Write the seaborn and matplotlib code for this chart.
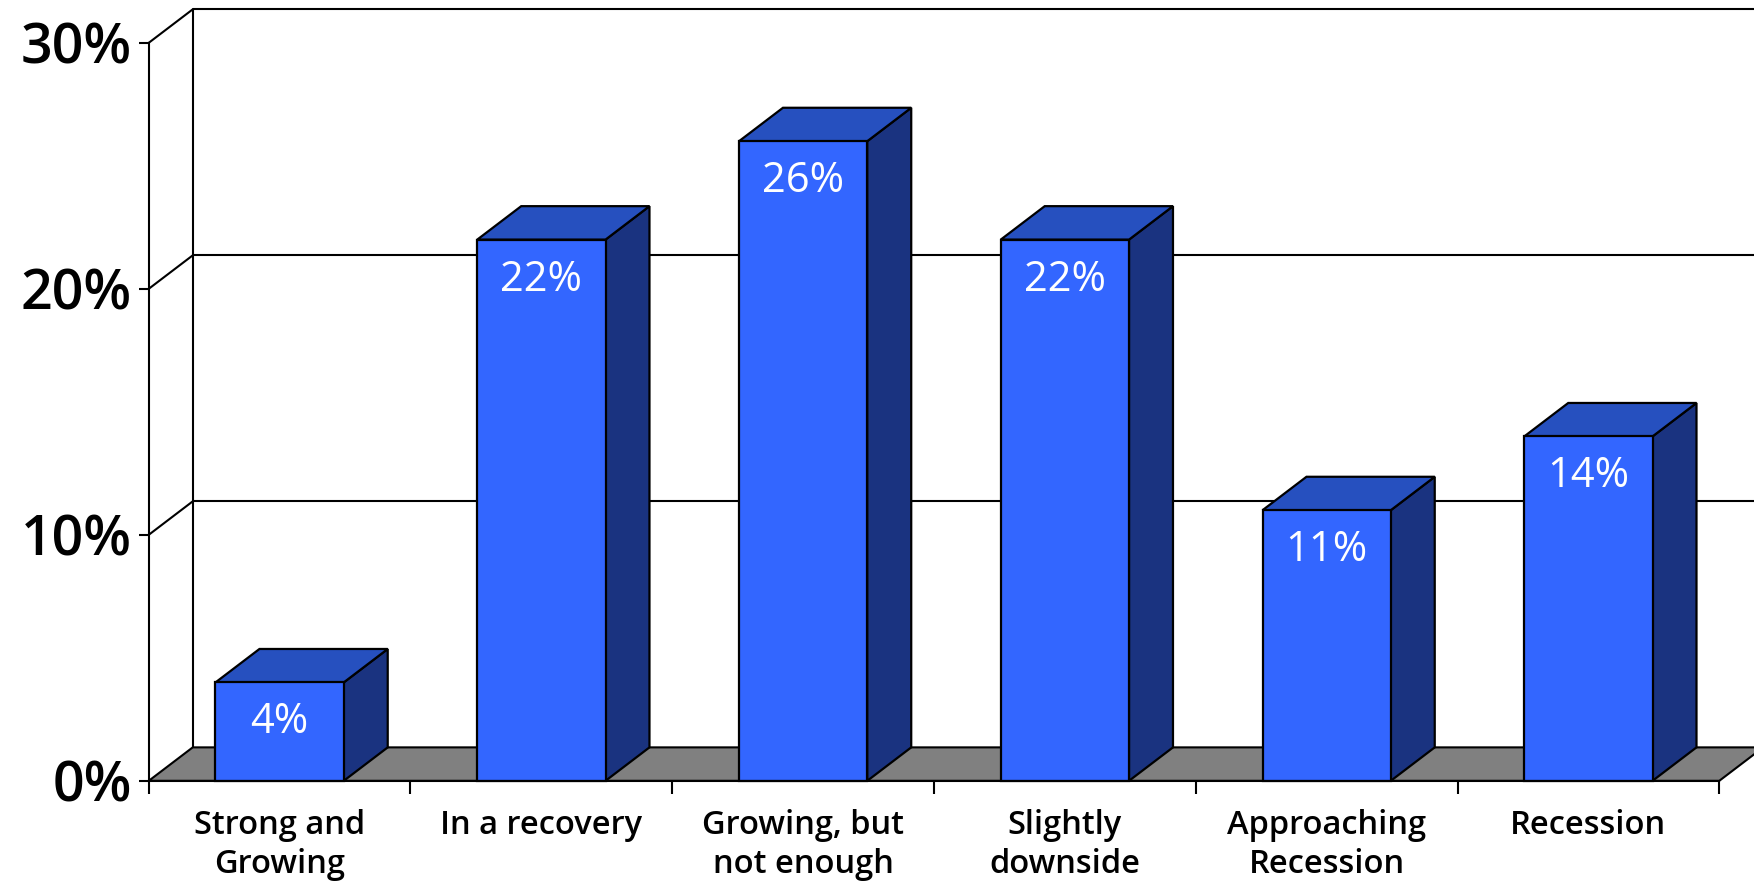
import matplotlib
matplotlib.use("Agg")
import matplotlib.pyplot as plt
from matplotlib.patches import Polygon
from matplotlib.transforms import offset_copy
import seaborn as sns
import pandas as pd

categories = ["Strong and\nGrowing", "In a recovery", "Growing, but\nnot enough",
              "Slightly\ndownside", "Approaching\nRecession", "Recession"]
values = [4, 22, 26, 22, 11, 14]
ytick_values = [0, 10, 20, 30]
ytick_labels = ["0%", "10%", "20%", "30%"]

FRONT = "#3366FF"
TOP = "#2650BF"
SIDE = "#1A3380"
FLOOR = "#808080"

sns.set_theme(style="white")
plt.rcParams["font.family"] = ["Open Sans", "DejaVu Sans"]
plt.rcParams["text.color"] = "black"
plt.rcParams["xtick.color"] = "black"
plt.rcParams["ytick.color"] = "black"

fig = plt.figure(figsize=(17.54, 8.81), dpi=100)
ax = fig.add_axes([0.0848, 0.1137, 0.8954, 0.8377])

df = pd.DataFrame({"category": categories, "value": values})
sns.barplot(data=df, x="category", y="value", ax=ax, width=0.49, color=FRONT,
            saturation=1, edgecolor="black", linewidth=1.6, zorder=5)

ax.set_xlim(-0.5, len(categories) - 0.5)
ax.set_ylim(0, 30)

dx = 0.168   # depth in category units
dy = 1.36    # depth in value units
x0, x1 = -0.5, len(categories) - 0.5
lw = 1.5

# back wall and side wall gridlines
for v in ytick_values[1:]:
    ax.plot([x0 + dx, x1 + dx + 0.5], [v + dy, v + dy], color="black", lw=lw,
            clip_on=False, zorder=1, solid_capstyle="butt")
    ax.plot([x0, x0 + dx], [v, v + dy], color="black", lw=lw, clip_on=False, zorder=1)
ax.plot([x0 + dx, x0 + dx], [dy, ytick_values[-1] + dy], color="black", lw=lw,
        clip_on=False, zorder=1)

# floor
floor = Polygon([[x0, 0], [x1, 0], [x1 + dx, dy], [x0 + dx, dy]], closed=True,
                facecolor=FLOOR, edgecolor="black", lw=lw, clip_on=False, zorder=2)
ax.add_patch(floor)

# 3D faces of bars
for p in list(ax.patches):
    if p is floor:
        continue
    bx, bw, bh = p.get_x(), p.get_width(), p.get_height()
    side = Polygon([[bx + bw, 0], [bx + bw + dx, dy], [bx + bw + dx, bh + dy], [bx + bw, bh]],
                   closed=True, facecolor=SIDE, edgecolor="black", lw=1.6,
                   clip_on=False, zorder=4, joinstyle="miter")
    top = Polygon([[bx, bh], [bx + dx, bh + dy], [bx + bw + dx, bh + dy], [bx + bw, bh]],
                  closed=True, facecolor=TOP, edgecolor="black", lw=1.6,
                  clip_on=False, zorder=4, joinstyle="miter")
    ax.add_patch(side)
    ax.add_patch(top)
    p.set_clip_on(False)

# value labels
for i, v in enumerate(values):
    tr = offset_copy(ax.transData, fig=fig, x=0, y=-40, units="dots")
    ax.text(i, v, f"{v}%", transform=tr, ha="center", va="center", color="white",
            fontsize=30, zorder=10)

# spines
for s in ["top", "right"]:
    ax.spines[s].set_visible(False)
for s in ["left", "bottom"]:
    ax.spines[s].set_visible(True)
    ax.spines[s].set_color("black")
    ax.spines[s].set_linewidth(lw)
    ax.spines[s].set_zorder(6)

ax.set_yticks(ytick_values)
ax.set_yticklabels(ytick_labels, fontsize=40, fontweight="semibold", color="black")
ax.tick_params(axis="y", direction="out", length=7, width=lw, color="black", pad=5, left=True)

bounds = [i - 0.5 for i in range(len(categories) + 1)]
ax.set_xticks(bounds)
ax.set_xticklabels([""] * len(bounds))
ax.set_xticks(list(range(len(categories))), minor=True)
ax.set_xticklabels(categories, minor=True, fontsize=23.5, fontweight="semibold",
                   linespacing=1.25, color="black")
ax.tick_params(axis="x", which="major", direction="out", length=9, width=lw,
               color="black", bottom=True)
ax.tick_params(axis="x", which="minor", length=0, pad=20)
ax.set_xlabel("")
ax.set_ylabel("")
ax.grid(False)

fig.savefig("out.png", dpi=100, facecolor="white")
